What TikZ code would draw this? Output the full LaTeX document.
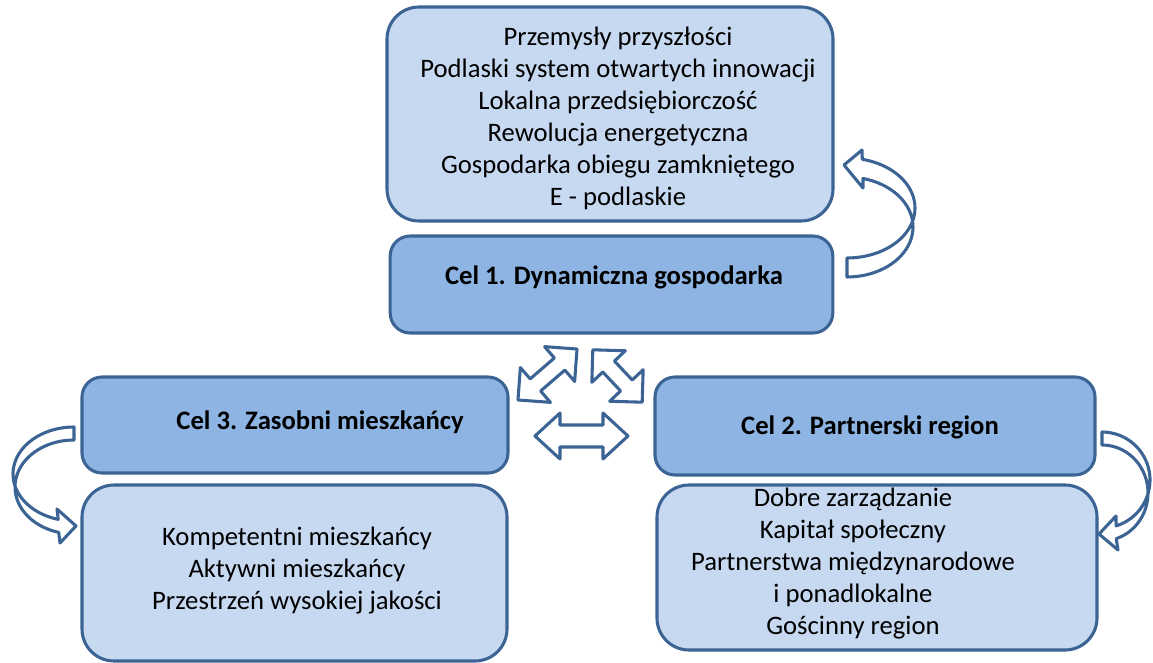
\documentclass[tikz,border=0pt]{standalone}
\usepackage{fontspec}
\setmainfont{Carlito}
\definecolor{edge}{HTML}{3B6494}
\definecolor{lightfill}{HTML}{C6D9F1}
\definecolor{midfill}{HTML}{8DB4E2}
\begin{document}
\begin{tikzpicture}[x=0.75pt,y=-0.75pt,
  lightbox/.style={draw=edge, line width=2.3pt, fill=lightfill, rounded corners=24pt, inner sep=0pt},
  celbox/.style={draw=edge, line width=2.3pt, fill=midfill, rounded corners=15pt, inner sep=0pt},
  txt/.style={align=center, inner sep=0pt, font=\fontsize{20}{24}\selectfont},
  celtxt/.style={inner sep=0pt, font=\fontsize{20}{24}\selectfont\bfseries},
  blockarrow/.style={draw=edge, line width=2.3pt, fill=white, line join=round}]
\useasboundingbox (0,0) rectangle (1153,663);

% boxes
\node[lightbox, minimum width=334.5pt, minimum height=160.5pt] (top) at (610,114) {};
\node[celbox, minimum width=332pt, minimum height=72.75pt] (cel1) at (611.5,284.5) {};
\node[celbox, minimum width=319.5pt, minimum height=72pt] (cel3) at (295,425) {};
\node[lightbox, minimum width=318.75pt, minimum height=132pt] (bl) at (294.5,573) {};
\node[celbox, minimum width=330pt, minimum height=73.5pt] (cel2) at (875,426) {};
\node[lightbox, minimum width=330pt, minimum height=123.75pt] (br) at (877,567.5) {};

% texts
\node[txt] (toptxt) at (618,118) {Przemysły przyszłości\\Podlaski system otwartych innowacji\\Lokalna przedsiębiorczość\\Rewolucja energetyczna\\Gospodarka obiegu zamkniętego\\E - podlaskie};
\node[celtxt] (cel1txt) at (614,277) {Cel 1. Dynamiczna gospodarka};
\node[celtxt] (cel3txt) at (320,422) {Cel 3. Zasobni mieszkańcy};
\node[celtxt] (cel2txt) at (870,427) {Cel 2. Partnerski region};
\node[txt] (bltxt) at (297,571) {Kompetentni mieszkańcy\\Aktywni mieszkańcy\\Przestrzeń wysokiej jakości};
\node[txt] (brtxt) at (853,564) {Dobre zarządzanie\\Kapitał społeczny\\Partnerstwa międzynarodowe\\i ponadlokalne\\Gościnny region};

% curved arrow top right (from Cel 1 up to top box)
\draw[blockarrow] plot[domain=90:-76,samples=40] ({847+66*cos(\x)},{227+50*sin(\x)})
  -- (863,188) -- (844,165) -- (862,150)
  -- plot[domain=-77:90,samples=40] ({847+68*cos(\x)},{208+50*sin(\x)}) -- cycle;

% curved arrow left (from Cel 3 down to bottom-left box)
\draw[blockarrow] plot[domain=270:105,samples=40] ({74+61*cos(\x)},{474+47*sin(\x)})
  -- (57,509) -- (76,526) -- (60,543)
  -- plot[domain=105:270,samples=40] ({74+59*cos(\x)},{487+47*sin(\x)}) -- cycle;

% curved arrow right (from Cel 2 down to bottom-right box)
\draw[blockarrow] plot[domain=-90:73,samples=40] ({1102+48*cos(\x)},{480+48*sin(\x)})
  -- (1116,516) -- (1099,534) -- (1118,550)
  -- plot[domain=72:-90,samples=40] ({1102+46*cos(\x)},{493+48*sin(\x)}) -- cycle;

% double arrows in the centre
\begin{scope}[shift={(581.5,436)}]
\draw[blockarrow] (-46.5,0) -- (-21.5,23) -- (-21.5,11) -- (21.5,11) -- (21.5,23) -- (46.5,0)
  -- (21.5,-23) -- (21.5,-11) -- (-21.5,-11) -- (-21.5,-23) -- cycle;
\end{scope}
\begin{scope}[shift={(547.5,374.5)}, rotate=40.8]
\draw[blockarrow] (-39,0) -- (-16,23) -- (-16,8) -- (16,8) -- (16,23) -- (39,0)
  -- (16,-23) -- (16,-8) -- (-16,-8) -- (-16,-23) -- cycle;
\end{scope}
\begin{scope}[shift={(617.5,376)}, rotate=-46.7]
\draw[blockarrow] (-36,0) -- (-13,23) -- (-13,8) -- (13,8) -- (13,23) -- (36,0)
  -- (13,-23) -- (13,-8) -- (-13,-8) -- (-13,-23) -- cycle;
\end{scope}
\end{tikzpicture}
\end{document}
